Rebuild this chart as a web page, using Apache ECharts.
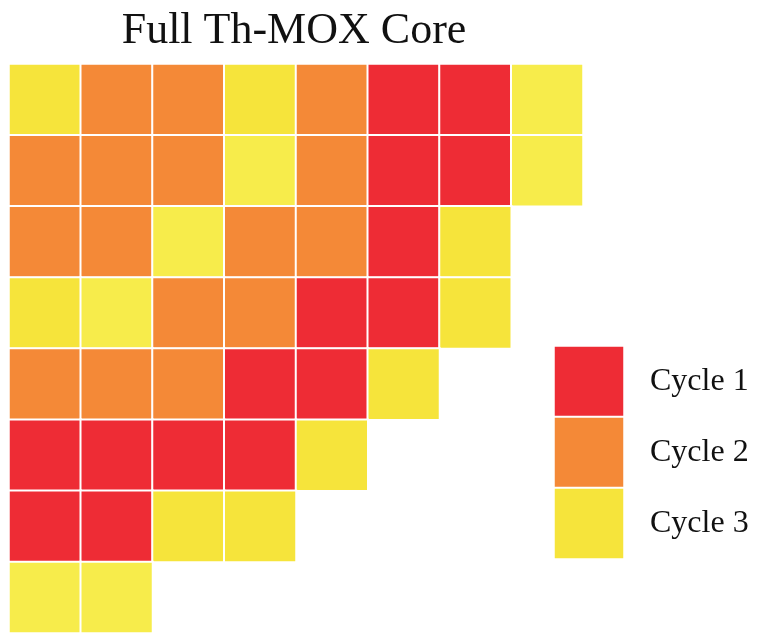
<!DOCTYPE html>
<html>
<head>
<meta charset="utf-8">
<script src="https://cdn.jsdelivr.net/npm/echarts@6/dist/echarts.min.js"></script>
<style>html,body{margin:0;padding:0;background:#fff}#c{width:757px;height:634px}</style>
</head>
<body>
<div id="c"></div>
<script>
// Core map: 1 = Cycle 1 (red), 2 = Cycle 2 (orange), 3 = Cycle 3 (yellow), 4 = Cycle 3 light shade
const columns = ['1','2','3','4','5','6','7','8'];
const rows = ['A','B','C','D','E','F','G','H'];
const rowA = [3,2,2,3,2,1,1,4];
const rowB = [2,2,2,4,2,1,1,4];
const rowC = [2,2,4,2,2,1,3];
const rowD = [3,4,2,2,1,1,3];
const rowE = [2,2,2,1,1,3];
const rowF = [1,1,1,1,3];
const rowG = [1,1,3,3];
const rowH = [4,4];
const coreRows = [rowA,rowB,rowC,rowD,rowE,rowF,rowG,rowH];
const legendLabels = ['Cycle 1','Cycle 2','Cycle 3'];
const legendValues = [1,2,3];
const titleText = 'Full Th-MOX Core';

const coreData = [];
coreRows.forEach((r, ri) => r.forEach((v, ci) => coreData.push([ci, ri, v])));
const legendData = legendValues.map((v, i) => [0, i, v]);

const chart = echarts.init(document.getElementById('c'));
const serif = '"Liberation Serif", "Times New Roman", serif';
chart.setOption({
  animation: false,
  backgroundColor: '#ffffff',
  title: {
    text: titleText, left: 289, top: 4, textAlign: 'center',
    textStyle: {fontFamily: serif, fontSize: 44, fontWeight: 'normal', color: '#111'}
  },
  grid: [
    {left: 9, top: 64, width: 574, height: 569},
    {left: 554, top: 346, width: 70, height: 213}
  ],
  xAxis: [
    {type: 'category', data: columns, gridIndex: 0, show: false},
    {type: 'category', data: ['L'], gridIndex: 1, show: false}
  ],
  yAxis: [
    {type: 'category', data: rows, gridIndex: 0, inverse: true, show: false},
    {type: 'category', data: legendLabels, gridIndex: 1, inverse: true, position: 'right',
     axisLine: {show: false}, axisTick: {show: false}, splitLine: {show: false},
     axisLabel: {margin: 26, fontFamily: serif, fontSize: 32, color: '#111', align: 'left',
                 padding: [6, 0, 0, 0]}}
  ],
  visualMap: {
    type: 'piecewise', show: false, dimension: 2,
    pieces: [
      {value: 1, color: '#EE2C35'},
      {value: 2, color: '#F48937'},
      {value: 3, color: '#F6E43B'},
      {value: 4, color: '#F7EC4B'}
    ]
  },
  series: [
    {type: 'heatmap', xAxisIndex: 0, yAxisIndex: 0, data: coreData,
     itemStyle: {borderColor: '#ffffff', borderWidth: 2}, emphasis: {disabled: true}},
    {type: 'heatmap', xAxisIndex: 1, yAxisIndex: 1, data: legendData,
     itemStyle: {borderColor: '#ffffff', borderWidth: 2}, emphasis: {disabled: true}}
  ]
});
</script>
</body>
</html>
